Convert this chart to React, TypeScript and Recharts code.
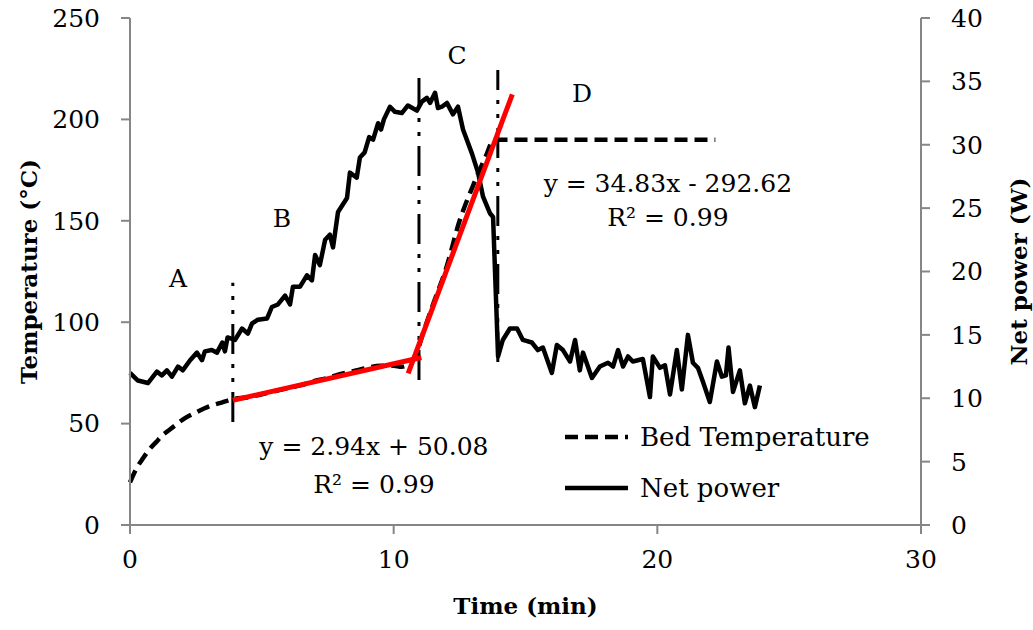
import {
  ComposedChart,
  Line,
  XAxis,
  YAxis,
  ReferenceLine,
  ReferenceDot,
  Legend,
} from 'recharts';

// net power (W) vs time (min), right axis
const powerTime = [
  0, 0.3, 0.68, 1.02, 1.21, 1.4, 1.59, 1.82, 2.0, 2.28, 2.54, 2.73, 2.84, 3.1, 3.3, 3.5, 3.6, 3.7, 3.98,
  4.25, 4.47, 4.63, 4.85, 5.2, 5.38, 5.61, 5.88, 6.07, 6.18, 6.45, 6.71, 6.9, 7.02, 7.2, 7.4, 7.58, 7.7,
  7.89, 8.23, 8.34, 8.6, 8.72, 8.9, 9.07, 9.22, 9.41, 9.52, 9.63, 9.86, 10.05, 10.31, 10.54, 10.88, 11.07,
  11.26, 11.38, 11.57, 11.68, 11.83, 12.02, 12.25, 12.44, 12.63, 12.97, 13.2, 13.39, 13.65, 13.77, 13.96,
  14.14, 14.41, 14.68, 14.9, 15.24, 15.47, 15.66, 16.0, 16.19, 16.42, 16.69, 16.88, 17.06, 17.18, 17.52,
  17.82, 18.13, 18.32, 18.51, 18.7, 18.89, 19.07, 19.45, 19.72, 19.83, 20.1, 20.29, 20.48, 20.74, 20.93,
  21.16, 21.35, 21.54, 21.73, 21.99, 22.26, 22.45, 22.6, 22.7, 22.87, 23.13, 23.32, 23.51, 23.7, 23.89,
];
const powerW = [
  12.0, 11.4, 11.2, 12.1, 11.8, 12.2, 11.7, 12.5, 12.2, 13.0, 13.6, 13.0, 13.7, 13.8, 13.6, 14.4, 13.7, 14.8, 14.6,
  15.5, 15.1, 15.9, 16.2, 16.3, 17.2, 17.4, 18.1, 17.4, 18.8, 18.8, 19.7, 19.3, 21.3, 20.5, 22.5, 22.9, 21.9,
  24.7, 25.8, 27.8, 27.4, 29.0, 29.4, 30.6, 30.4, 31.7, 31.2, 32.0, 33.0, 32.6, 32.5, 33.1, 32.7, 33.4,
  33.7, 33.3, 34.1, 32.9, 33.0, 33.3, 32.4, 33.0, 31.2, 29.3, 27.8, 25.9, 24.6, 24.3, 13.3,
  14.6, 15.5, 15.5, 14.6, 14.4, 13.8, 14.0, 12.0, 14.2, 13.8, 12.9, 14.6, 12.2, 13.6, 11.6,
  12.5, 12.8, 12.5, 13.8, 12.5, 13.3, 12.9, 13.1, 10.1, 13.3, 12.4, 12.6, 10.3, 13.8, 10.7,
  15.0, 12.8, 12.4, 11.3, 9.7, 12.9, 11.7, 11.8, 14.0, 10.5, 12.2, 9.6, 11.0, 9.3, 11.0,
];

// bed temperature (°C) vs time (min), left axis
const bedTime = [
  0, 0.25, 0.5, 0.75, 1.0, 1.25, 1.5, 1.75, 2.0, 2.5, 3.0, 3.5, 3.9, 4.5, 5.0, 5.5, 6.0, 6.5, 7.0, 7.5,
  8.0, 8.5, 9.0, 9.5, 10.0, 10.3, 10.7, 10.9, 11.1, 11.5, 12.0, 12.5, 13.0, 13.5, 13.8, 14.0, 16, 18, 20, 22.2,
];
const bedTemp = [
  21, 28, 33, 37.5, 41, 44.5, 47, 49.5, 52, 55.5, 58.5, 60.5, 62, 63, 64.5, 66, 67.5, 69, 71, 72.5,
  74.5, 76, 77.5, 78.5, 78.5, 78, 81, 86, 94, 109, 127, 150, 167, 182, 190, 190, 190, 190, 190, 190,
];

// linear fits (end points)
const fit1Time = [3.9, 11.05];
const fit1Temp = [61.5, 82.6];
const fit2Time = [10.55, 14.5];
const fit2Temp = [74.8, 212.4];

// phase boundaries: [time, bottom temp, top temp]
const boundaries = [
  [3.9, 50.8, 119.5],
  [10.96, 71.5, 224.4],
  [13.95, 80.4, 224.4],
];

const phaseLabels = ['A', 'B', 'C', 'D'];
const phaseX = [1.82, 5.76, 12.4, 17.14];
const phaseY = [121.8, 151.4, 231.8, 213];

const eqTexts = ['y = 2.94x + 50.08', 'R² = 0.99', 'y = 34.83x - 292.62', 'R² = 0.99'];
const eqX = [9.25, 9.25, 20.4, 20.4];
const eqY = [39, 20.2, 168.6, 151.9];

const tempTicks = [0, 50, 100, 150, 200, 250];
const powerTicks = [0, 5, 10, 15, 20, 25, 30, 35, 40];
const timeTicks = [0, 10, 20, 30];

const powerData = powerTime.map((t, i) => ({ t, w: powerW[i] }));
const bedData = bedTime.map((t, i) => ({ t, temp: bedTemp[i] }));
const fit1Data = fit1Time.map((t, i) => ({ t, fit: fit1Temp[i] }));
const fit2Data = fit2Time.map((t, i) => ({ t, fit: fit2Temp[i] }));

const FONT = '"DejaVu Serif", serif';
const AXIS = '#868686';
const DASH = '13 7';
const DASHDOTDOT = '30 10 4 10 4 10';

function LegendBox() {
  return (
    <svg width={360} height={100} style={{ display: 'block' }}>
      <line x1={5} y1={27} x2={68} y2={27} stroke="#000" strokeWidth={4.5} strokeDasharray={DASH} />
      <text x={80} y={27} dy="0.35em" fontFamily={FONT} fontSize={26} fill="#000">
        Bed Temperature
      </text>
      <line x1={5} y1={78} x2={68} y2={78} stroke="#000" strokeWidth={4.5} />
      <text x={80} y={78} dy="0.35em" fontFamily={FONT} fontSize={26} fill="#000">
        Net power
      </text>
    </svg>
  );
}

export default function App() {
  const tick = { fill: '#000', fontSize: 25, fontFamily: FONT };
  return (
    <div style={{ position: 'absolute', left: 0, top: 0, background: '#fff' }}>
      <ComposedChart
        width={1033}
        height={630}
        margin={{ top: 18, right: 0, bottom: 0, left: 0 }}
        style={{ fontFamily: FONT }}
      >
        <XAxis
          dataKey="t"
          type="number"
          domain={[0, 30]}
          ticks={timeTicks}
          height={105}
          stroke={AXIS}
          strokeWidth={2}
          tickSize={9}
          tickMargin={16}
          tick={tick}
          allowDuplicatedCategory={false}
          label={{
            value: 'Time (min)',
            position: 'insideBottom',
            offset: 16,
            fill: '#000',
            fontSize: 23,
            fontWeight: 'bold',
            fontFamily: FONT,
          }}
        />
        <YAxis
          yAxisId="left"
          domain={[0, 250]}
          ticks={tempTicks}
          width={130}
          stroke={AXIS}
          strokeWidth={2}
          tickSize={9}
          tickMargin={21}
          tick={tick}
          label={{
            value: 'Temperature (°C)',
            angle: -90,
            position: 'insideLeft',
            offset: 29,
            fill: '#000',
            fontSize: 23,
            fontWeight: 'bold',
            fontFamily: FONT,
            style: { textAnchor: 'middle' },
          }}
        />
        <YAxis
          yAxisId="right"
          orientation="right"
          domain={[0, 40]}
          ticks={powerTicks}
          width={112}
          stroke={AXIS}
          strokeWidth={2}
          tickSize={9}
          tickMargin={21}
          tick={tick}
          label={{
            value: 'Net power (W)',
            angle: -90,
            position: 'insideRight',
            offset: 14,
            fill: '#000',
            fontSize: 23,
            fontWeight: 'bold',
            fontFamily: FONT,
            style: { textAnchor: 'middle' },
          }}
        />

        <Line
          yAxisId="left"
          data={bedData}
          dataKey="temp"
          type="monotone"
          stroke="#000"
          strokeWidth={4.5}
          strokeDasharray={DASH}
          dot={false}
          isAnimationActive={false}
          legendType="none"
        />
        <Line
          yAxisId="right"
          data={powerData}
          dataKey="w"
          type="linear"
          stroke="#000"
          strokeWidth={4.5}
          strokeLinejoin="round"
          dot={false}
          isAnimationActive={false}
          legendType="none"
        />
        {boundaries.map(([t, lo, hi], i) => (
          <ReferenceLine
            key={'b' + i}
            yAxisId="left"
            segment={[
              { x: t, y: lo },
              { x: t, y: hi },
            ]}
            stroke="#000"
            strokeWidth={3}
            strokeDasharray={DASHDOTDOT}
          />
        ))}
        <Line
          yAxisId="left"
          data={fit1Data}
          dataKey="fit"
          type="linear"
          stroke="#ff0000"
          strokeWidth={5}
          dot={false}
          isAnimationActive={false}
          legendType="none"
        />
        <Line
          yAxisId="left"
          data={fit2Data}
          dataKey="fit"
          type="linear"
          stroke="#ff0000"
          strokeWidth={5}
          dot={false}
          isAnimationActive={false}
          legendType="none"
        />

        {phaseLabels.map((s, i) => (
          <ReferenceDot
            key={'p' + i}
            yAxisId="left"
            x={phaseX[i]}
            y={phaseY[i]}
            r={0}
            stroke="none"
            fill="none"
            label={{ value: s, position: 'center', fill: '#000', fontSize: 25, fontFamily: FONT }}
          />
        ))}
        {eqTexts.map((s, i) => (
          <ReferenceDot
            key={'e' + i}
            yAxisId="left"
            x={eqX[i]}
            y={eqY[i]}
            r={0}
            stroke="none"
            fill="none"
            label={{ value: s, position: 'center', fill: '#000', fontSize: 25, fontFamily: FONT }}
          />
        ))}

        <Legend
          layout="vertical"
          align="center"
          verticalAlign="middle"
          content={() => <LegendBox />}
          wrapperStyle={{ left: 560, top: 410, width: 360, height: 100 }}
        />
      </ComposedChart>
    </div>
  );
}
